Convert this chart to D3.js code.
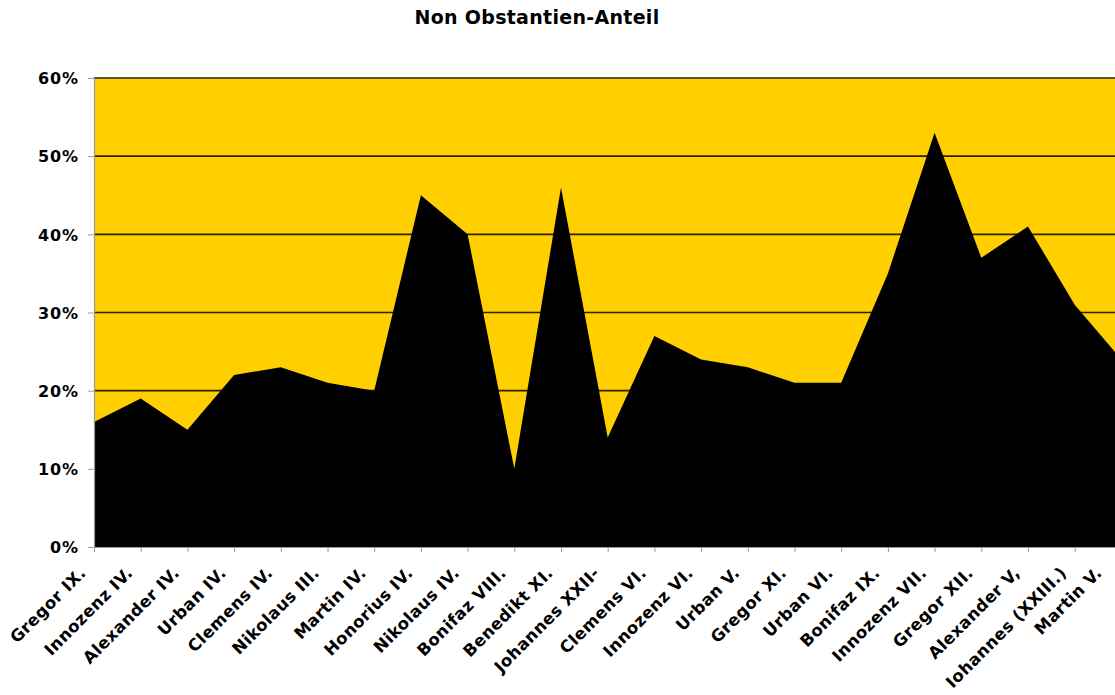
<!DOCTYPE html>
<html>
<head>
<meta charset="utf-8">
<script src="https://cdn.jsdelivr.net/npm/d3@7"></script>
<style>
  body { margin: 0; background: #fff; }
  text { font-family: "DejaVu Sans", Verdana, sans-serif; font-weight: bold; fill: #000; }
</style>
</head>
<body>
<div id="chart"></div>
<script>
var popes = ["Gregor IX.", "Innozenz IV.", "Alexander IV.", "Urban IV.", "Clemens IV.", "Nikolaus III.",
  "Martin IV.", "Honorius IV.", "Nikolaus IV.", "Bonifaz VIII.", "Benedikt XI.", "Johannes XXII-",
  "Clemens VI.", "Innozenz VI.", "Urban V.", "Gregor XI.", "Urban VI.", "Bonifaz IX.", "Innozenz VII.",
  "Gregor XII.", "Alexander V,", "Iohannes (XXIII.)", "Martin V."];
var anteil = [16, 19, 15, 22, 23, 21, 20, 45, 40, 10, 46, 14, 27, 24, 23, 21, 21, 35, 53, 37, 41, 31, 24];
var yTicks = [0, 10, 20, 30, 40, 50, 60];
var titel = "Non Obstantien-Anteil";

var W = 1115, H = 695;
var margin = {top: 78, left: 94, bottom: 148};
var plotH = H - margin.top - margin.bottom;
var step = 46.7;

var svg = d3.select("#chart").append("svg")
    .attr("width", W)
    .attr("height", H);

var x = d3.scalePoint()
    .domain(popes)
    .range([margin.left, margin.left + step * (popes.length - 1)]);

var y = d3.scaleLinear()
    .domain([0, 60])
    .range([margin.top + plotH, margin.top]);

// yellow plot background
svg.append("rect")
    .attr("x", x.range()[0])
    .attr("y", y(60))
    .attr("width", x.range()[1] - x.range()[0])
    .attr("height", y(0) - y(60))
    .attr("fill", "#ffcf00");

// gridlines
svg.append("g")
    .selectAll("line")
    .data(yTicks.filter(function(d) { return d > 0; }))
    .enter().append("line")
    .attr("x1", x.range()[0])
    .attr("x2", x.range()[1])
    .attr("y1", function(d) { return y(d); })
    .attr("y2", function(d) { return y(d); })
    .attr("stroke", "#2a2200")
    .attr("stroke-width", 1.6);

var area = d3.area()
    .x(function(d, i) { return x(popes[i]); })
    .y0(y(0))
    .y1(function(d) { return y(d); });

svg.append("path")
    .datum(anteil)
    .attr("fill", "#000")
    .attr("d", area);

// y axis
var yAxis = d3.axisLeft(y)
    .tickValues(yTicks)
    .tickSize(6)
    .tickPadding(9)
    .tickFormat(function(d) { return d + "%"; });

var gy = svg.append("g")
    .attr("transform", "translate(" + margin.left + ",0)")
    .call(yAxis);
gy.select(".domain").attr("stroke", "#9a9a9a").attr("stroke-width", 1.2);
gy.selectAll(".tick line").attr("stroke", "#9a9a9a");
gy.selectAll("text")
    .attr("font-size", "16px")
    .attr("dy", "0.36em")
    .style("letter-spacing", "0.9px");

// x axis
var xAxis = d3.axisBottom(x).tickSize(5).tickFormat("");
var gx = svg.append("g")
    .attr("transform", "translate(0," + y(0) + ")")
    .call(xAxis);
gx.select(".domain").attr("stroke", "#9a9a9a");
gx.selectAll(".tick line").attr("stroke", "#9a9a9a");

svg.append("g")
    .selectAll("text")
    .data(popes)
    .enter().append("text")
    .attr("text-anchor", "end")
    .attr("font-size", "16.5px")
    .style("letter-spacing", "0.4px")
    .attr("transform", function(d) {
      var px = Math.min(x(d) - 7, W - 12);
      return "translate(" + px + "," + (y(0) + 27) + ") rotate(-45)";
    })
    .text(function(d) { return d; });

// title
svg.append("text")
    .attr("x", 537)
    .attr("y", 24)
    .attr("text-anchor", "middle")
    .attr("font-size", "19px")
    .style("letter-spacing", "0.3px")
    .text(titel);
</script>
</body>
</html>
